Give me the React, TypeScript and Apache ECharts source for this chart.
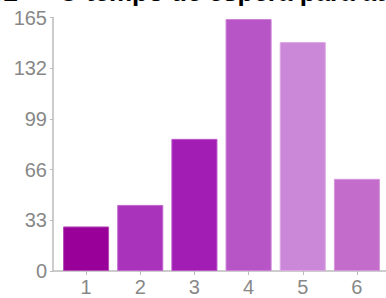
import React, { useEffect, useRef } from "react";
import * as echarts from "echarts";

const categories = ["1", "2", "3", "4", "5", "6"];
const values = [29, 43, 86, 164, 149, 60];
const barColors = ["#990099", "#aa33bb", "#a11db3", "#b855c6", "#cc88d8", "#c46ccc"];
const borderColors = ["#b44cb4", "#c266cf", "#bb55c9", "#cc80d6", "#dca8e4", "#d496da"];
const yTicks = [0, 33, 66, 99, 132, 165];
const titleText = "32 — O tempo de espera para atendimento";

export default function App() {
  const ref = useRef<HTMLDivElement>(null);
  useEffect(() => {
    if (!ref.current) return;
    const chart = echarts.init(ref.current, undefined, { renderer: "svg" });
    chart.setOption({
      animation: false,
      grid: { left: 59, right: 2, top: 17.5, bottom: 27 },
      xAxis: {
        type: "category",
        data: categories,
        boundaryGap: true,
        axisLine: { show: false },
        axisTick: { show: true, alignWithLabel: true, length: 4, lineStyle: { color: "#bbbbbb" } },
        axisLabel: { color: "#888888", fontSize: 20, fontFamily: "Liberation Sans, Arial, sans-serif", margin: 6 },
      },
      yAxis: {
        type: "value",
        min: yTicks[0],
        max: yTicks[yTicks.length - 1],
        interval: 33,
        offset: 6,
        axisLine: { show: true, lineStyle: { color: "#bbbbbb", width: 1.5 } },
        axisTick: { show: true, length: 3, lineStyle: { color: "#bbbbbb" } },
        splitLine: { show: false },
        axisLabel: { color: "#888888", fontSize: 20, fontFamily: "Liberation Sans, Arial, sans-serif", margin: 6 },
      },
      series: [
        {
          type: "bar",
          barCategoryGap: "15%",
          data: values.map((v, i) => ({
            value: v,
            itemStyle: { color: barColors[i], borderColor: borderColors[i], borderWidth: 1 },
          })),
        },
      ],
      graphic: [
        {
          type: "line",
          shape: { x1: 53, y1: 271, x2: 386, y2: 271 },
          style: { stroke: "#bbbbbb", lineWidth: 1.5 },
          silent: true,
        },
        {
          type: "text",
          x: -11,
          y: -8,
          style: {
            text: titleText,
            font: "bold 26px 'Liberation Sans', Arial, sans-serif",
            fill: "#000000",
            textVerticalAlign: "middle",
          },
        },
      ],
    });
    return () => chart.dispose();
  }, []);
  return <div ref={ref} style={{ width: 386, height: 298, position: "absolute", left: 0, top: 0 }} />;
}
